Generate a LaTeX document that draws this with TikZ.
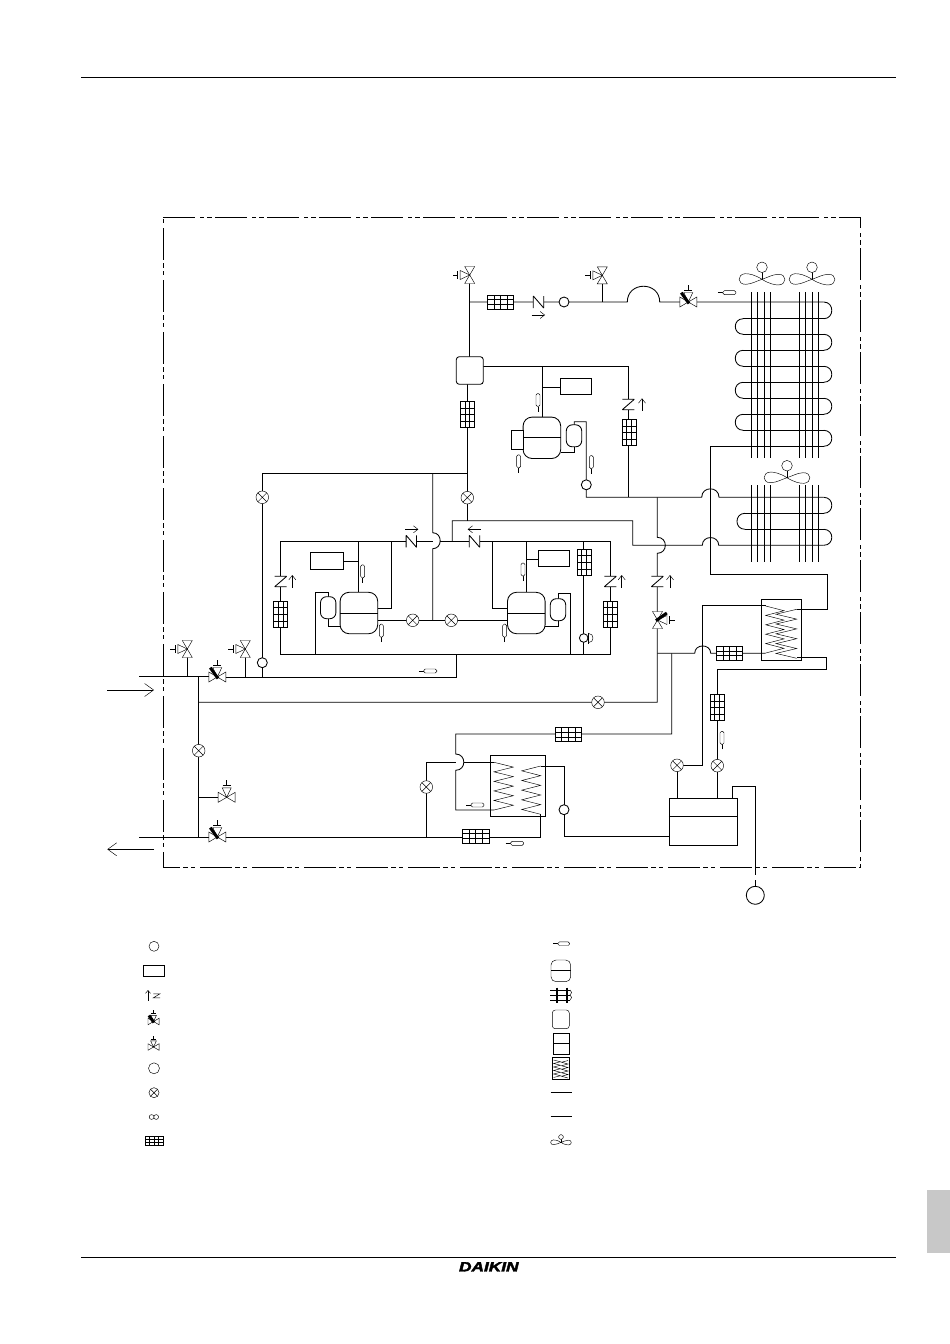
\documentclass[tikz,border=0pt]{standalone}
\usepackage{fontspec}
\newfontfamily\logofont[BoldItalicFeatures={FakeBold=2.5}]{Liberation Sans}
\usetikzlibrary{arrows.meta}
\definecolor{tabgray}{HTML}{C8C8C8}
\tikzset{
  pipe/.style={line width=0.85pt},
  thinpipe/.style={line width=0.45pt},
  pagerule/.style={line width=0.9pt},
  framedash/.style={line width=0.8pt, dash pattern=on 32pt off 5pt on 4pt off 3pt on 5pt off 3pt},
  bigarrow/.style={thinpipe, -{Straight Barb[length=9pt,width=13pt]}},
  smallarrow/.style={thinpipe, -{Straight Barb[length=4.5pt,width=7pt]}},
  tube/.style={circle, draw, pipe, fill=white, minimum size=10pt, inner sep=0pt},
  boxn/.style={rectangle, draw, pipe, fill=white, inner sep=0pt},
  % symbols, drawn handle up / lying along x
  pics/stopvalve/.style={code={
    \filldraw[thinpipe, fill=white] (-8.5,-5) -- (8.5,5) -- (8.5,-5) -- (-8.5,5) -- cycle;
    \filldraw[thinpipe, fill=white] (0,0) -- (-4.5,-9.5) -- (4.5,-9.5) -- cycle;
    \draw[thinpipe] (0,-12) -- (0,-17) (-4,-12) -- (4,-12);
  }},
  pics/motorvalve/.style={code={
    \filldraw[thinpipe, fill=white] (-8.5,-5) -- (8.5,5) -- (8.5,-5) -- (-8.5,5) -- cycle;
    \filldraw[thinpipe, fill=white] (0,0) -- (-4.5,-9.5) -- (4.5,-9.5) -- cycle;
    \draw[thinpipe] (0,-12) -- (0,-17) (-4,-12) -- (4,-12);
    \draw[line width=3pt] (-7,-9.3) -- (0.7,1.5);
  }},
  pics/xvalve/.style={code={
    \filldraw[thinpipe, fill=white] (0,0) circle[radius=6.3];
    \draw[thinpipe] (-4.4,-4.4) -- (4.4,4.4) (-4.4,4.4) -- (4.4,-4.4);
  }},
  pics/checkv/.style={code={
    \fill[white] (-5.2,-4) rectangle (5.2,4);
    \draw[pipe] (-5.2,-6) -- (-5.2,6) (5.2,-6) -- (5.2,6) (-5.2,-6) -- (5.2,6);
  }},
  pics/filterg/.style={code={
    \filldraw[thinpipe, fill=white] (-13.2,-7) rectangle (13.2,7);
    \foreach \gx in {-6.6,0,6.6} \draw[thinpipe] (\gx,-7) -- (\gx,7);
    \foreach \gy in {-2.33,2.33} \draw[thinpipe] (-13.2,\gy) -- (13.2,\gy);
  }},
  pics/sensor/.style={code={
    \draw[thinpipe] (-9,0) -- (-4,0);
    \filldraw[thinpipe, fill=white, rounded corners=1.5pt] (-4,-2) rectangle (9,2);
  }},
  pics/compr/.style={code={
    \filldraw[pipe, fill=white, rounded corners=9pt] (-18.8,-20.7) rectangle (18.8,20.7);
    \draw[pipe] (-18.8,0) -- (18.8,0);
  }},
  pics/accum/.style={code={
    \filldraw[pipe, fill=white, rounded corners=6pt] (-7.7,-11) rectangle (7.7,11);
  }},
  pics/fanb/.style={code={
    \draw[thinpipe] (0,-7) -- (0,0);
    \filldraw[thinpipe, fill=white] (0,-12) circle[radius=5.3];
    \foreach \fa in {0,180} \draw[thinpipe, rotate=\fa]
      (0,0) .. controls (-7,-4.5) and (-13,-5.8) .. (-17,-5.6)
      .. controls (-25,-5) and (-25,5.5) .. (-16,5)
      .. controls (-10,4.6) and (-6,2) .. (0,0);
  }}
}
\newcommand{\hxcoil}[5]{\draw[thinpipe] (#1,#3) \foreach \i in {1,...,#5}{ -- ({ifthenelse(mod(\i,2)==1,#2,#1)},{#3+\i*#4}) };}
\begin{document}
\begin{tikzpicture}[x=1pt,y=-1pt]
\useasboundingbox (0,0) rectangle (950,1344);
% PAGE FURNITURE
\draw[pagerule] (81,77) -- (895.5,77);
\draw[pagerule] (81,1257.5) -- (895.5,1257.5);
\fill[tabgray] (927.3,1190) rectangle (950,1253);
\node[font=\logofont\bfseries\itshape\fontsize{13.5}{14}\selectfont, xscale=1.28, inner sep=0pt] (logo) at (488.8,1266.8) {DAIKIN};
% UNIT BOUNDARY
\draw[framedash] (163.3,217) -- (860.3,217) -- (860.3,867.3) -- (163.3,867.3) -- cycle;
% FLOW ARROWS
\coordinate (inS) at (107.3,690);
\coordinate (inE) at (154,690);
\coordinate (outS) at (154,849.3);
\coordinate (outE) at (107.3,849.3);
\draw[bigarrow] (inS) -- (inE);
\draw[bigarrow] (outS) -- (outE);
% UPPER LINE
\draw[pipe] (469.3,275) -- (469.3,356.7);
\draw[pipe] (469.3,302) -- (627.3,302) .. controls (627.3,281) and (659.7,281) .. (659.7,302) -- (823.7,302);
\draw[pipe] (602.3,275.3) -- (602.3,302);
% TOP COMPRESSOR
\draw[pipe] (467.3,384.3) -- (467.3,520.7);
\draw[pipe] (483.3,366.7) -- (628.3,366.7) -- (628.3,497.3);
\draw[pipe] (542.3,366.7) -- (542.3,417.3);
\draw[pipe] (542.3,387.3) -- (560.3,387.3);
\draw[pipe] (574.3,425) -- (574.3,421.7) -- (586.3,421.7) -- (586.3,497.3) -- (701.7,497.3)
  .. controls (701.7,486) and (719,486) .. (719,497.3) -- (823.7,497.3);
\draw[pipe] (574.3,446.7) -- (574.3,452.3) -- (560.7,452.3);
% LOWER COMPRESSORS
\draw[pipe] (467.3,473.7) -- (262.3,473.7) -- (262.3,677.3);
\draw[pipe] (432.7,473.7) -- (432.7,532.7) .. controls (442.7,532.7) and (442.7,548.7) .. (432.7,548.7) -- (432.7,620.3);
\draw[pipe] (432.7,541.3) -- (280.7,541.3) -- (280.7,654.3) -- (610.3,654.3) -- (610.3,541.3) -- (440.2,541.3);
\draw[pipe] (358.3,541.3) -- (358.3,592.3);
\draw[pipe] (358.3,561.3) -- (343.7,561.3);
\draw[pipe] (391.7,541.3) -- (391.7,608.3) -- (377.7,608.3);
\draw[pipe] (377.7,620.3) -- (507.3,620.3);
\draw[pipe] (328.3,596.7) -- (328.3,592.3) -- (315.3,592.3) -- (315.3,654.3);
\draw[pipe] (328.3,618.7) -- (328.3,626.3) -- (340,626.3);
\draw[pipe] (526.3,541.3) -- (526.3,592.3);
\draw[pipe] (526.3,559.3) -- (538.3,559.3);
\draw[pipe] (492.3,541.3) -- (492.3,608.3) -- (507.3,608.3);
\draw[pipe] (558,599) -- (558,593.3) -- (570.7,593.3) -- (570.7,654.3);
\draw[pipe] (558,620.3) -- (558,626.3) -- (545.3,626.3);
\draw[pipe] (583.7,541.3) -- (583.7,654.3);
\draw[pipe] (452.3,541.3) -- (452.3,520.7) -- (632.7,520.7) -- (632.7,545.3) -- (702.3,545.3)
  .. controls (702.3,535) and (718.7,535) .. (718.7,545.3) -- (823.7,545.3);
% FIELD SIDE
\draw[pipe] (139,676.3) -- (217.3,676.3);
\draw[pipe] (217.3,677.3) -- (456.3,677.3) -- (456.3,654.3);
\draw[pipe] (187.3,649) -- (187.3,676.3);
\draw[pipe] (245.3,649) -- (245.3,677.3);
\draw[pipe] (198.7,676.3) -- (198.7,837);
\draw[pipe] (198.7,797.3) -- (226.7,797.3);
\draw[pipe] (657.3,497.3) -- (657.3,537.3) .. controls (668,537.3) and (668,553.3) .. (657.3,553.3) -- (657.3,702.3) -- (198.7,702.3);
\draw[pipe] (139,837) -- (540.7,837) -- (540.7,814.3);
\draw[pipe] (426.3,837) -- (426.3,762.3) -- (455.7,762.3);
\draw[pipe] (463.7,762.3) -- (494,762.3);
\draw[pipe] (671.7,653.3) -- (671.7,734) -- (455.7,734) -- (455.7,754) .. controls (466.5,754) and (466.5,770.3) .. (455.7,770.3) -- (455.7,810) -- (494,810);
\draw[pipe] (657.3,653.3) -- (694.7,653.3) .. controls (694.7,643.5) and (710.7,643.5) .. (710.7,653.3) -- (765.7,653.3);
\draw[pipe] (677,798.3) -- (677,765.3) -- (702.5,765.3) -- (702.5,605.3) -- (765.7,605.3);
\draw[pipe] (717,798.3) -- (717,669.3) -- (826.7,669.3) -- (826.7,657.3) -- (796.7,657.3);
\draw[pipe] (796.7,609.3) -- (827.3,609.3) -- (827.3,574.3) -- (710.3,574.3) -- (710.3,446.3) -- (823.7,446.3);
\draw[pipe] (540.7,766.3) -- (564.3,766.3) -- (564.3,836.5) -- (669.3,836.5);
\draw[pipe] (732.3,798.3) -- (732.3,786.3) -- (755.3,786.3) -- (755.3,875);
\draw[pipe] (755.3,880) -- (755.3,886.3);
% HEAT EXCHANGER COILS
\foreach \fx in {751.7,757.5,764.3,770.7,799.5,805.7,812.3,818.7} {
  \draw[pipe] (\fx,292.3) -- (\fx,458.3);
  \draw[pipe] (\fx,485) -- (\fx,561.7);
}
\foreach \ty in {318.7,334.3,350.3,366.3,382.3,398.3,414.3,430.3}
  \draw[pipe] (743.3,\ty) -- (823.7,\ty);
\foreach \ty in {513.3,529.3} \draw[pipe] (745,\ty) -- (823.7,\ty);
\foreach \ya/\yb in {302/318.7,334.3/350.3,366.3/382.3,398.3/414.3,430.3/446.3,497.3/513.3,529.3/545.3}
  \draw[pipe] (823.7,\ya) .. controls (834.5,\ya) and (834.5,\yb) .. (823.7,\yb);
\foreach \ya/\yb in {318.7/334.3,350.3/366.3,382.3/398.3,414.3/430.3}
  \draw[pipe] (743.3,\ya) .. controls (732.6,\ya) and (732.6,\yb) .. (743.3,\yb);
\draw[pipe] (745,513.3) .. controls (734.3,513.3) and (734.3,529.3) .. (745,529.3);
\pic at (762,279.3) {fanb};
\pic at (812,279.3) {fanb};
\pic at (787,477.7) {fanb};
% SYMBOLS ON THE LINES
\pic[rotate=90] at (469.7,275) {stopvalve};
\pic[rotate=90] at (602.3,275.3) {stopvalve};
\pic[rotate=90] at (187.3,649) {stopvalve};
\pic[rotate=90] at (245.3,649) {stopvalve};
\pic at (226.7,797.3) {stopvalve};
\pic at (688.3,302) {motorvalve};
\pic at (217.3,677) {motorvalve};
\pic at (217.3,837) {motorvalve};
\pic[rotate=-90] at (657.5,620) {motorvalve};
\foreach \vx/\vy in {467.3/497.7,262.3/497.3,412.7/620.3,451.3/620.3,598/702.3,198.7/750.7,426.3/787,677/765.3,717.3/765.7}
  \pic at (\vx,\vy) {xvalve};
\foreach \vx/\vy in {538.5/302,411.3/541.3,474.5/541.3}
  \pic at (\vx,\vy) {checkv};
\foreach \vx/\vy in {628.3/404.5,280.7/581.5,610.3/581.5,657.3/581.5}
  \pic[rotate=90] at (\vx,\vy) {checkv};
\foreach \vx/\vy in {500.5/302,729.5/653.3,568.2/734.5,475.7/836}
  \pic at (\vx,\vy) {filterg};
\foreach \vx/\vy in {467.3/414.5,628.8/432.5,280.5/614.3,610/614.3,584/562.3,717/707.5}
  \pic[rotate=90] at (\vx,\vy) {filterg};
\foreach \vx/\vy in {726.9/292.7,427.8/671,475/805,514.7/843.3}
  \pic at (\vx,\vy) {sensor};
\foreach \vx/\vy in {538/402.5,518.7/463.8,591.3/464.6,362.7/573.8,381.3/633.2,523/572,504.7/633.2,722/740.3}
  \pic[rotate=90] at (\vx,\vy) {sensor};
\pic at (541.9,437.8) {compr};
\pic at (358.9,613) {compr};
\pic at (526.3,613) {compr};
\pic at (574,435.8) {accum};
\pic at (328.2,607.7) {accum};
\pic at (558,609.7) {accum};
\node[boxn, minimum width=11.7pt, minimum height=19pt] (comprstub) at (517.2,439.8) {};
\node[boxn, rounded corners=3pt, minimum width=27pt, minimum height=27.6pt] (sepbox) at (469.8,370.5) {};
\node[boxn, minimum width=31.4pt, minimum height=16pt] (boxtop) at (576,386.3) {};
\node[boxn, minimum width=33pt, minimum height=17pt] (boxleft) at (327.2,560.8) {};
\node[boxn, minimum width=31.4pt, minimum height=16.4pt] (boxright) at (554,558.5) {};
\node[tube] (capA) at (564,302) {};
\node[tube] (capB) at (586.3,484.8) {};
\node[tube] (capC) at (262.3,662.7) {};
\node[tube] (capD) at (564,809.7) {};
\node[tube, minimum size=8.6pt] (capE) at (583.7,638) {};
\filldraw[thinpipe, fill=white] (588.5,633.4) .. controls (594.5,633.4) and (594.5,642.6) .. (588.5,642.6) -- cycle;
\draw[pipe] (588.5,632.5) -- (588.5,643.5);
\node[tube, minimum size=18pt] (extcirc) at (755.3,895.3) {};
% FLOW DIRECTION MARKS
\draw[smallarrow] (531.7,315) -- (545,315);
\draw[smallarrow] (405,529.3) -- (418.3,529.3);
\draw[smallarrow] (480.7,529.3) -- (467.7,529.3);
\draw[smallarrow] (642,410.7) -- (642,398.3);
\draw[smallarrow] (292.3,587.7) -- (292.3,575);
\draw[smallarrow] (621.7,587.7) -- (621.7,575);
\draw[smallarrow] (670,588) -- (670,575);
% HEAT EXCHANGERS
\node[boxn, fill=none, minimum width=40.4pt, minimum height=61.3pt] (hxright) at (781.5,629.7) {};
\hxcoil{765.7}{784}{606}{4.7}{10}
\hxcoil{796.7}{776}{609.3}{4.9}{10}
\node[boxn, fill=none, minimum width=55pt, minimum height=61pt] (hxleft) at (517.8,785.8) {};
\hxcoil{494}{513.3}{762.3}{4.77}{10}
\hxcoil{540.7}{521.7}{766}{4.83}{10}
\node[boxn, minimum width=68.4pt, minimum height=47pt] (tank) at (703.5,821.8) {};
\draw[pipe] (tank.west |- 0,816.3) -- (tank.east |- 0,816.3);
% LEGEND LEFT
\node[tube, thinpipe] (lgcap) at (154,946.3) {};
\node[boxn, thinpipe, minimum width=21.4pt, minimum height=11pt] (lgbox) at (154,970.8) {};
\draw[thinpipe, -{Straight Barb[length=3pt,width=5pt]}] (148,1000.5) -- (148,990);
\draw[thinpipe] (153.3,993.8) -- (160,993.8) -- (153.3,997.8) -- (160,997.8);
\pic[scale=0.65] at (153.5,1021.5) {motorvalve};
\pic[scale=0.65] at (153.5,1047) {stopvalve};
\node[tube, thinpipe, minimum size=11pt] (lgcirc) at (154,1068.3) {};
\pic[scale=0.8] at (154,1092.7) {xvalve};
\draw[thinpipe] (151.6,1117) circle[radius=2.4] (156.2,1117) circle[radius=2.4];
\pic[scale=0.67] at (154,1140.8) {filterg};
% LEGEND RIGHT
\pic[scale=0.9] at (561.5,943.7) {sensor};
\filldraw[thinpipe, fill=white, rounded corners=5pt] (551,960) rectangle (570.7,981.7);
\draw[thinpipe] (551,970.7) -- (570.7,970.7);
\foreach \ty in {990,995,1000} \draw[thinpipe] (550,\ty) -- (570,\ty);
\draw[line width=2.4pt] (557,987.7) -- (557,1002.7) (567,987.7) -- (567,1002.7);
\draw[thinpipe] (570,990) -- (571.7,992.5) -- (570,995) -- (571.7,997.5) -- (570,1000);
\draw[thinpipe, rounded corners=3pt] (552.3,1010) rectangle (569.3,1028.7);
\draw[thinpipe] (553.3,1033.3) rectangle (569.3,1054.3) (553.3,1043) -- (569.3,1043);
\draw[thinpipe] (552.3,1057.7) rectangle (569.3,1079.3);
\hxcoil{553.5}{560.5}{1060}{1.75}{10}
\hxcoil{568}{561.5}{1060.5}{1.75}{10}
\draw[thinpipe] (550.7,1092.3) -- (571.7,1092.3);
\draw[thinpipe] (550.7,1116.3) -- (571.7,1116.3);
\pic[scale=0.45] at (561,1142.4) {fanb};
\end{tikzpicture}
\end{document}
